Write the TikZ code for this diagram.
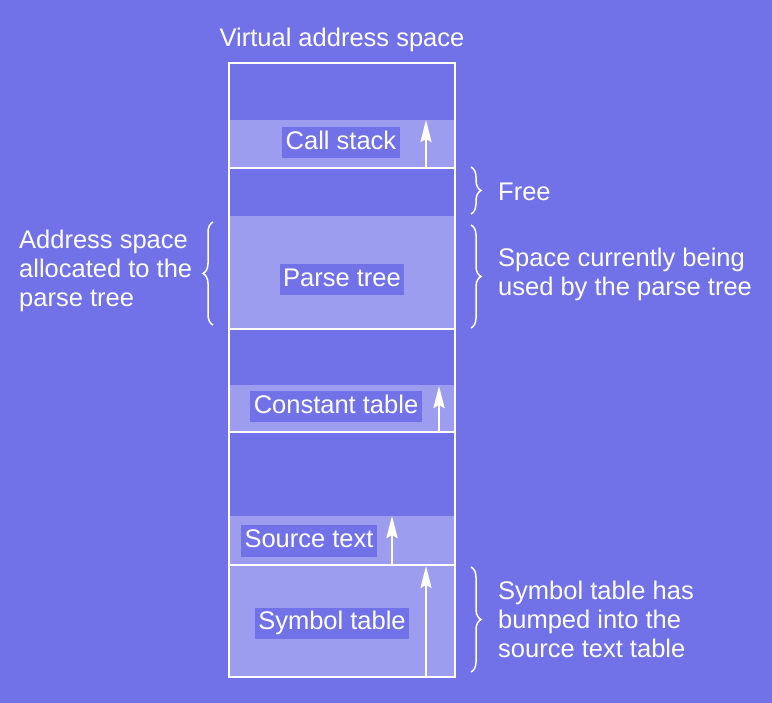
\documentclass[tikz,border=0pt]{standalone}
\usepackage{fontspec}
\setmainfont{Liberation Sans}
\usetikzlibrary{positioning,decorations.pathreplacing,arrows.meta}
\definecolor{freeblue}{HTML}{7272E8}
\definecolor{usedblue}{HTML}{9D9DF0}
\tikzset{
  tablelabel/.style={fill=freeblue, text=white, inner xsep=3.5pt, inner ysep=3pt, text height=19pt, text depth=6pt},
  sidetext/.style={text=white, align=left, inner sep=0pt},
  growth/.style={->, line width=2.5pt, white},
  sidebrace/.style={decorate, decoration={brace, amplitude=10pt}, line width=1.5pt, white}
}

\begin{document}
\begin{tikzpicture}[x=1pt, y=-1pt, >={Stealth[length=22pt, width=11pt, inset=3pt]}, font=\fontsize{25.5}{29}\selectfont]
    \fill[freeblue] (0,0) rectangle (772,703);
    \node[text=white] (title) at (342,40) {Virtual address space};

    % used part of each table
    \foreach \top/\bot in {120/168, 216/329, 385/432, 516/565, 565/677} {
        \fill[usedblue] (229,\top) rectangle (455,\bot);
    }
    \foreach \y in {168, 329, 432, 565} {
        \draw[white, line width=2.5pt] (229,\y) -- (455,\y);
    }
    \draw[white, line width=2.5pt] (229,63) rectangle (455,677);

    % growth arrows
    \coordinate (cs-base) at (426,168);  \coordinate (cs-tip) at (426,120);
    \coordinate (ct-base) at (439,432);  \coordinate (ct-tip) at (439,386);
    \coordinate (st-base) at (392,565);  \coordinate (st-tip) at (392,516);
    \coordinate (sy-base) at (426,677);  \coordinate (sy-tip) at (426,566);
    \draw[growth] (cs-base) -- (cs-tip);
    \draw[growth] (ct-base) -- (ct-tip);
    \draw[growth] (st-base) -- (st-tip);
    \draw[growth] (sy-base) -- (sy-tip);

    \node[tablelabel] (callstack) at (341,143) {Call stack};
    \node[tablelabel] (parsetree) at (342,280) {Parse tree};
    \node[tablelabel] (consttable) at (336,407) {Constant table};
    \node[tablelabel] (sourcetext) at (309,541) {Source text};
    \node[tablelabel] (symtable) at (332,623) {Symbol table};

    % braces and side notes
    \coordinate (free-top) at (471,167);   \coordinate (free-bot) at (471,214);
    \coordinate (used-top) at (471,225);   \coordinate (used-bot) at (471,328);
    \coordinate (sym-top) at (471,567);    \coordinate (sym-bot) at (471,672);
    \coordinate (alloc-bot) at (213,325);  \coordinate (alloc-top) at (213,222);
    \draw[sidebrace] (free-top) -- (free-bot);
    \draw[sidebrace] (used-top) -- (used-bot);
    \draw[sidebrace] (sym-top) -- (sym-bot);
    \draw[sidebrace] (alloc-bot) -- (alloc-top);

    \node[sidetext, anchor=west] (freenote) at (498,192) {Free};
    \node[sidetext, anchor=west] (usednote) at (498,274) {Space currently being\\used by the parse tree};
    \node[sidetext, anchor=west] (symnote) at (498,619) {Symbol table has\\bumped into the\\source text table};
    \node[sidetext, anchor=west] (allocnote) at (19,271) {Address space\\allocated to the\\parse tree};
\end{tikzpicture}
\end{document}
